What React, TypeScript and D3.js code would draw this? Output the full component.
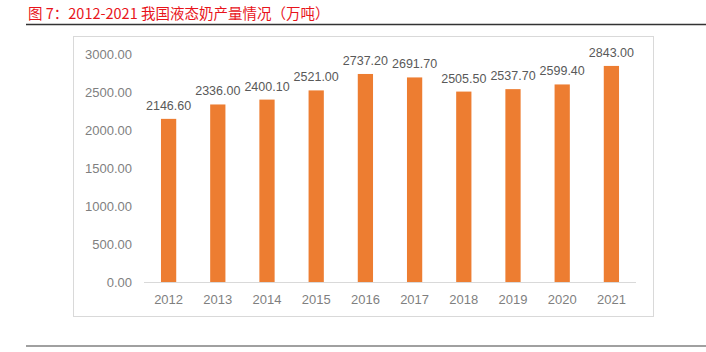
import React from 'react';
import * as d3 from 'd3';

const years = ['2012', '2013', '2014', '2015', '2016', '2017', '2018', '2019', '2020', '2021'];
const output = [2146.6, 2336.0, 2400.1, 2521.0, 2737.2, 2691.7, 2505.5, 2537.7, 2599.4, 2843.0];
const yTicks = [0, 500, 1000, 1500, 2000, 2500, 3000];

const width = 706;
const height = 352;
const plot = { left: 144, right: 636, top: 54, bottom: 282 };
const font = '"Liberation Sans", Arial, sans-serif';

const App = () => {
  const x = d3.scaleBand()
    .domain(years)
    .range([plot.left, plot.right])
    .paddingInner(0.69)
    .paddingOuter(0.345);

  const y = d3.scaleLinear()
    .domain([0, 3000])
    .range([plot.bottom, plot.top]);

  return (
    <svg width={width} height={height} style={{ position: 'absolute', left: 0, top: 0 }}>
      <rect width={width} height={height} fill="#fff" />
      <text x={28} y={19} fontSize={14.5} fill="#e8141b"
        fontFamily='"Noto Sans CJK SC", sans-serif'>
        图 7：2012-2021 我国液态奶产量情况（万吨）
      </text>
      <line x1={26} x2={706} y1={24.5} y2={24.5} stroke="#333" strokeWidth={1.5} />
      <rect x={73.5} y={36.5} width={580} height={280} fill="none" stroke="#d9d9d9" />

      {yTicks.map(t => (
        <text key={t} x={132} y={y(t)} dy="0.35em" textAnchor="end"
          fontSize={13} fill="#7f7f7f" fontFamily={font}>
          {t.toFixed(2)}
        </text>
      ))}

      {years.map((yr, i) => (
        <g key={yr}>
          <rect x={x(yr)} y={y(output[i])} width={x.bandwidth()}
            height={y(0) - y(output[i])} fill="#ed7d31" />
          <text x={(x(yr) as number) + x.bandwidth() / 2} y={y(output[i]) - 9}
            textAnchor="middle" fontSize={12.5} fill="#595959" fontFamily={font}>
            {output[i].toFixed(2)}
          </text>
          <text x={(x(yr) as number) + x.bandwidth() / 2} y={plot.bottom + 17}
            dy="0.35em" textAnchor="middle" fontSize={13} fill="#7f7f7f" fontFamily={font}>
            {yr}
          </text>
        </g>
      ))}

      <line x1={plot.left} x2={plot.right} y1={y(0) + 0.5} y2={y(0) + 0.5} stroke="#d9d9d9" />
      <line x1={26} x2={706} y1={346} y2={346} stroke="#808080" strokeWidth={1.5} />
    </svg>
  );
};

export default App;
